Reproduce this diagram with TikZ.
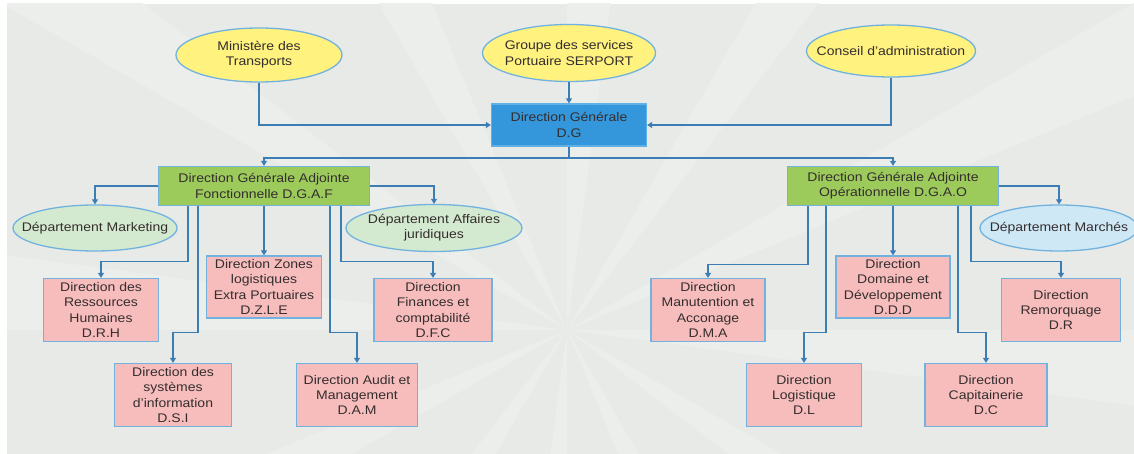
\documentclass[tikz,border=0pt]{standalone}
\usepackage{fontspec}
\setmainfont{Liberation Sans}[FakeStretch=1.12]
\usetikzlibrary{shapes.geometric,arrows.meta}
\definecolor{bgpanel}{HTML}{E7EAE7}
\definecolor{rayc}{HTML}{ECEEEC}
\definecolor{linec}{HTML}{3C7DB4}
\definecolor{pinkf}{HTML}{F7BDBD}
\definecolor{bordc}{HTML}{72B2DE}
\definecolor{greenf}{HTML}{9CCB5C}
\definecolor{yellf}{HTML}{FFF27F}
\definecolor{dgf}{HTML}{3497DB}
\definecolor{dgb}{HTML}{5FB0E6}
\definecolor{lgreenf}{HTML}{D4EAD0}
\definecolor{lbluef}{HTML}{CFE8F6}
\definecolor{txtc}{HTML}{352E2E}
\tikzset{
  lbltext/.style={inner sep=0pt, align=center, text=txtc, font=\fontsize{12.5}{15.3}\selectfont},
  base/.style={lbltext, line width=1.3pt},
  topell/.style={base, ellipse, draw=bordc, fill=yellf},
  dept/.style={base, ellipse, draw=bordc, fill=lgreenf, minimum width=164pt, minimum height=46pt},
  dgbox/.style={base, rectangle, draw=dgb, fill=dgf, minimum width=155pt, minimum height=42pt},
  adjbox/.style={base, rectangle, draw=bordc, fill=greenf, minimum width=211pt, minimum height=39pt},
  dirbox/.style={base, rectangle, draw=bordc, fill=pinkf, minimum height=63pt},
  conn/.style={draw=linec, line width=1.1pt, -{Triangle[width=6pt,length=5pt]}},
  plain/.style={draw=linec, line width=1.1pt}
}
\begin{document}
\begin{tikzpicture}[x=1pt,y=-1pt]
\useasboundingbox (0,0) rectangle (1134,454);
\fill[white] (0,0) rectangle (1134,454);
\begin{scope}
\clip (7,4) rectangle (1134,454);
\fill[bgpanel] (7,4) rectangle (1134,454);
\foreach \a in {0,30,...,330}{
  \fill[rayc] (567,330) -- ++(\a:900) -- ++(\a+90:120) -- cycle;
}
\end{scope}
% top level
\node[topell, minimum width=166pt, minimum height=54pt, label={[lbltext]center:{Ministère des\\Transports}}] (min) at (259,55) {};
\node[topell, minimum width=173pt, minimum height=57pt, label={[lbltext]center:{Groupe des services\\Portuaire SERPORT}}] (grp) at (569,53) {};
\node[topell, minimum width=169pt, minimum height=52pt, label={[lbltext]center:{Conseil d'administration}}] (cons) at (891,51) {};
\node[dgbox] (dg) at (569,125) {Direction Générale\\D.G};
% adjoint directors
\node[adjbox] (dgaf) at (264,186) {Direction Générale Adjointe\\Fonctionnelle D.G.A.F};
\node[adjbox] (dgao) at (893,186) {Direction Générale Adjointe\\Opérationnelle D.G.A.O};
\coordinate (hub) at (569,158);
% departments
\node[dept, label={[lbltext]center:{Département Marketing}}] (mkt) at (95,228) {};
\node[dept, minimum width=176pt, minimum height=47pt, label={[lbltext]center:{Département Affaires\\juridiques}}] (aj) at (434,228) {};
\node[dept, fill=lbluef, minimum width=158pt, label={[lbltext]center:{Département Marchés}}] (mar) at (1059,228) {};
% left directions
\node[dirbox, minimum width=115pt] (drh) at (101,310) {Direction des\\Ressources\\Humaines\\D.R.H};
\node[dirbox, minimum width=115pt, minimum height=62pt] (dzle) at (264,287) {Direction Zones\\logistiques\\Extra Portuaires\\D.Z.L.E};
\node[dirbox, minimum width=117pt] (dsi) at (173,395) {Direction des\\systèmes\\d'information\\D.S.I};
\node[dirbox, minimum width=121pt] (dam) at (357,395) {Direction Audit et\\Management\\D.A.M};
\node[dirbox, minimum width=118pt] (dfc) at (433,310) {Direction\\Finances et\\comptabilité\\D.F.C};
% right directions
\node[dirbox, minimum width=114pt] (dma) at (708,310) {Direction\\Manutention et\\Acconage\\D.M.A};
\node[dirbox, minimum width=114pt, minimum height=62pt] (ddd) at (893,287) {Direction\\Domaine et\\Développement\\D.D.D};
\node[dirbox, minimum width=119pt] (dr) at (1061,310) {Direction\\Remorquage\\D.R};
\node[dirbox, minimum width=115pt] (dl) at (804,395) {Direction\\Logistique\\D.L};
\node[dirbox, minimum width=122pt] (dc) at (986,395) {Direction\\Capitainerie\\D.C};
% connectors top
\draw[conn] (min.south) |- (dg.west);
\draw[conn] (cons.south) |- (dg.east);
\draw[conn] (grp.south) -- (dg.north);
\draw[plain] (dg.south) -- (hub);
\draw[conn] (hub) -| (dgaf.north);
\draw[conn] (hub) -| (dgao.north);
% departments
\draw[conn] (dgaf.west) -| (mkt.north);
\draw[conn] (dgaf.east) -| (aj.north);
\draw[conn] (dgao.east) -| (mar.north);
% left group
\draw[conn] ([xshift=-76pt]dgaf.south) |- ([yshift=16pt]drh.north) -- (drh.north);
\draw[conn] ([xshift=-66pt]dgaf.south) |- ([yshift=30pt]dsi.north) -- (dsi.north);
\draw[conn] (dgaf.south) -- (dzle.north);
\draw[conn] ([xshift=66pt]dgaf.south) |- ([yshift=30pt]dam.north) -- (dam.north);
\draw[conn] ([xshift=77pt]dgaf.south) |- ([yshift=16pt]dfc.north) -- (dfc.north);
% right group
\draw[conn] ([xshift=-85pt]dgao.south) |- ([yshift=13pt]dma.north) -- (dma.north);
\draw[conn] ([xshift=-67pt]dgao.south) |- ([yshift=30pt]dl.north) -- (dl.north);
\draw[conn] (dgao.south) -- (ddd.north);
\draw[conn] ([xshift=65pt]dgao.south) |- ([yshift=30pt]dc.north) -- (dc.north);
\draw[conn] ([xshift=78pt]dgao.south) |- ([yshift=16pt]dr.north) -- (dr.north);
\end{tikzpicture}
\end{document}
